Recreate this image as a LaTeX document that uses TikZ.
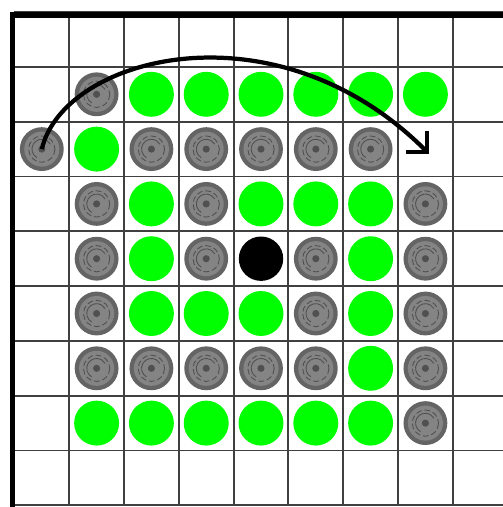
\documentclass[tikz,border=0pt]{standalone}
\usetikzlibrary{arrows.meta}

\definecolor{boardline}{RGB}{64,64,64}
\definecolor{stonegreen}{RGB}{0,255,0}
\definecolor{ringgray}{RGB}{100,100,100}
\definecolor{facegray}{RGB}{132,132,132}
\definecolor{markgray}{RGB}{80,80,80}

\begin{document}
\begin{tikzpicture}[y=-1cm,
    board line/.style={boardline, line width=1pt},
    board edge/.style={black, line width=2.8pt},
    green piece/.style={circle, fill=stonegreen, minimum size=0.82cm, inner sep=0pt},
    black piece/.style={circle, fill=black, minimum size=0.81cm, inner sep=0pt},
    gray piece/.style={circle, fill=ringgray, minimum size=0.8cm, inner sep=0pt,
        path picture={
            \fill[facegray] (path picture bounding box.center) circle (0.32);
            \draw[markgray, line width=0.45pt, dash pattern=on 3pt off 1.5pt] (path picture bounding box.center) circle (0.24);
            \draw[markgray, line width=0.45pt] ([shift={(120:0.18)}]path picture bounding box.center) arc (120:330:0.18);
            \fill[markgray] (path picture bounding box.center) circle (0.065);
        }},
    move arrow/.style={-{Straight Barb[angle=90:11pt]}, line width=2.2pt}]
    \clip (-0.263,-0.221) rectangle (8.916,9.031);
    \fill[white] (-0.263,-0.221) rectangle (8.916,9.031);
    % board
    \draw[board line] (0,0) grid (9,9);
    \draw[board edge] (-0.04,9.1) -- (-0.04,0.05) -- (9.1,0.05);
    % pieces
    \foreach \c/\r in {1/1,0/2,2/2,3/2,4/2,5/2,6/2,1/3,3/3,7/3,1/4,3/4,5/4,7/4,1/5,5/5,7/5,1/6,2/6,3/6,4/6,5/6,7/6,7/7}
        \node[gray piece] (g-\c-\r) at (\c+0.5,\r+0.5) {};
    \foreach \c/\r in {2/1,3/1,4/1,5/1,6/1,7/1,1/2,2/3,4/3,5/3,6/3,2/4,6/4,2/5,3/5,4/5,6/5,6/6,1/7,2/7,3/7,4/7,5/7,6/7}
        \node[green piece] (v-\c-\r) at (\c+0.5,\r+0.5) {};
    \node[black piece] (b-4-4) at (4.5,4.5) {};
    % move
    \coordinate (dest) at (7.57,2.59);
    \draw[move arrow] (g-0-2.center) .. controls (0.9,0.8) and (4.77,-0.21) .. (dest);
\end{tikzpicture}
\end{document}
